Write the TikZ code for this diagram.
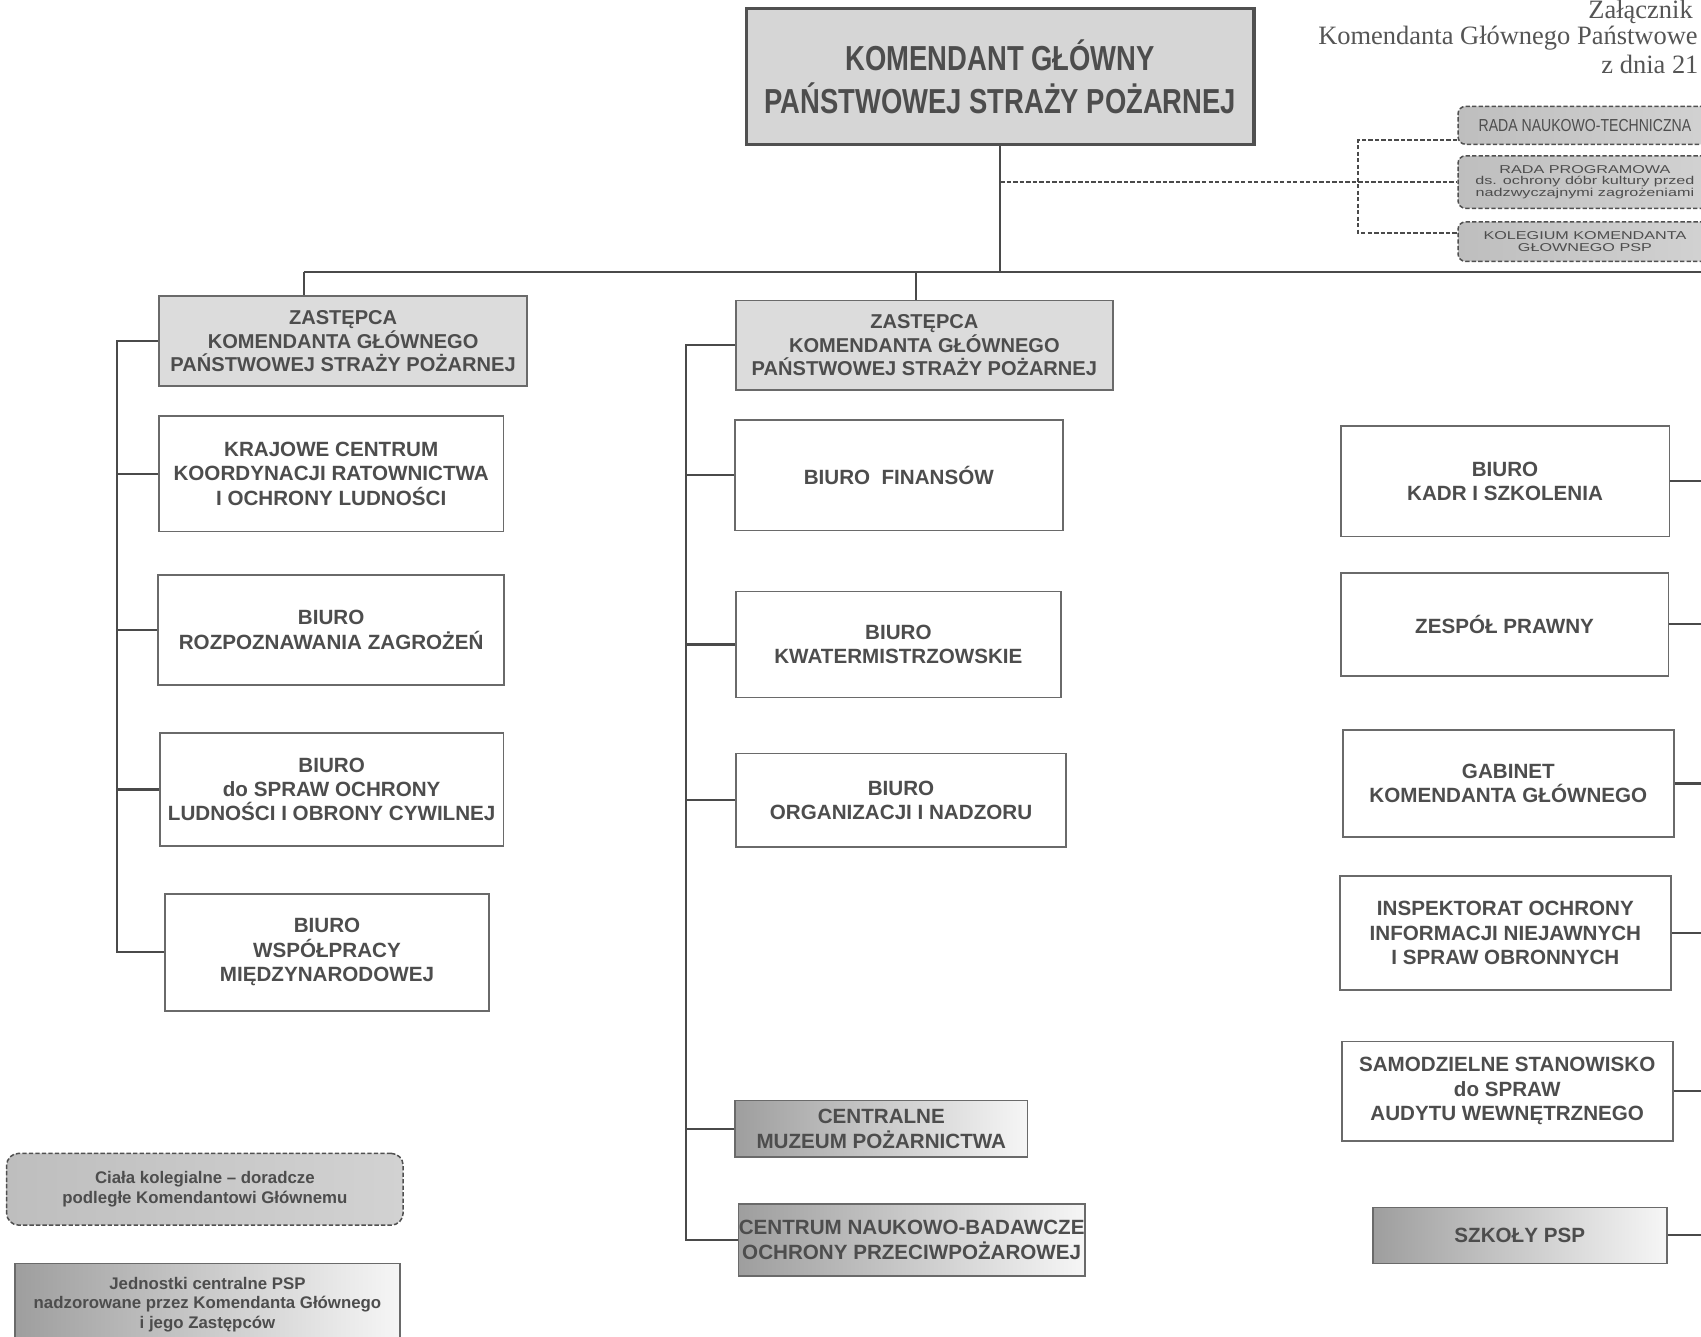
\documentclass[tikz,border=0pt]{standalone}
\usepackage{fontspec}
\setmainfont{Liberation Sans}
\newfontfamily\serifhead{Liberation Serif}
\newfontfamily\narrowmain{Liberation Sans}[FakeStretch=0.79]
\newfontfamily\narrowrada{Liberation Sans}[FakeStretch=0.81]
\newfontfamily\widerada{Liberation Sans}[FakeStretch=1.42]
\usetikzlibrary{calc}
\definecolor{linec}{HTML}{4A4A4A}
\definecolor{boxline}{HTML}{6A6A6A}
\definecolor{txt}{HTML}{4D4D4D}
\definecolor{zfill}{HTML}{DCDCDC}
\definecolor{mainfill}{HTML}{D6D6D6}
\definecolor{mainborder}{HTML}{505050}
\definecolor{gdark}{HTML}{9E9E9E}
\definecolor{glight}{HTML}{F6F6F6}
\definecolor{rdark}{HTML}{BEBEBE}
\definecolor{rlight}{HTML}{D2D2D2}
\definecolor{hdrc}{HTML}{555555}
\tikzset{
  box/.style={draw=boxline, line width=1.5pt, inner sep=0pt, align=center, text=txt,
    font=\bfseries\fontsize{19}{22.5}\selectfont},
  wbox/.style={box, fill=white},
  zbox/.style={box, fill=zfill, font=\bfseries\fontsize{18.5}{21.7}\selectfont},
  gbox/.style={box, left color=gdark, right color=glight},
  mainbox/.style={draw=mainborder, line width=3pt, fill=mainfill, inner sep=0pt, align=center,
    text=txt, font=\narrowmain\bfseries\fontsize{32}{40}\selectfont},
  radabox/.style={draw=mainborder, line width=1.4pt, dash pattern=on 4pt off 2pt,
    rounded corners=7pt, left color=rdark, right color=rlight, inner sep=0pt,
    align=center, text=txt},
  legdash/.style={radabox, rounded corners=11pt, font=\bfseries\fontsize{15.5}{19}\selectfont},
  leggrad/.style={gbox, font=\bfseries\fontsize{15.5}{18}\selectfont},
  hdr/.style={anchor=base west, inner sep=0pt, text=hdrc, font=\serifhead\fontsize{24.4}{27}\selectfont},
  conn/.style={draw=linec, line width=2pt},
  dconn/.style={draw=linec, line width=1.4pt, dash pattern=on 4pt off 2pt},
}
\begin{document}
\begin{tikzpicture}[x=1pt,y=-1pt]
\useasboundingbox[fill=white] (0,0) rectangle (1568,1232);
\clip (0,0) rectangle (1568,1232);

% header
\node[hdr] (hdr1) at (1464,17.5) {Załącznik};
\node[hdr] (hdr2) at (1215,41) {Komendanta Głównego Państwowe};
\node[hdr] (hdr3) at (1476,68.2) {z dnia 21};

% main
\node[mainbox, minimum width=468pt, minimum height=125pt] (main) at (922,70.5)
  {KOMENDANT GŁÓWNY\\PAŃSTWOWEJ STRAŻY POŻARNEJ};

% advisory bodies
\node[radabox, minimum width=234pt, minimum height=35pt,
  font=\narrowrada\fontsize{16}{18}\selectfont] (r1) at (1461,115.5) {RADA NAUKOWO-TECHNICZNA};
\node[radabox, minimum width=234pt, minimum height=48.4pt,
  font=\widerada\fontsize{10.5}{10.9}\selectfont] (r2) at (1461,167.8)
  {RADA PROGRAMOWA\\ds. ochrony dóbr kultury przed\\nadzwyczajnymi zagrożeniami};
\node[radabox, minimum width=234pt, minimum height=36.5pt,
  font=\widerada\fontsize{10.5}{10.9}\selectfont] (r3) at (1461,222.75)
  {KOLEGIUM KOMENDANTA\\GŁOWNEGO PSP};

% left column
\node[zbox, minimum width=339.4pt, minimum height=83pt] (z1) at (316.3,314.5)
  {ZASTĘPCA\\KOMENDANTA GŁÓWNEGO\\PAŃSTWOWEJ STRAŻY POŻARNEJ};
\node[wbox, minimum width=317.4pt, minimum height=106.5pt] (kraj) at (305.3,436.75)
  {KRAJOWE CENTRUM\\KOORDYNACJI RATOWNICTWA\\I OCHRONY LUDNOŚCI};
\node[wbox, minimum width=318.9pt, minimum height=101.5pt] (rozp) at (305.25,580.75)
  {BIURO\\ROZPOZNAWANIA ZAGROŻEŃ};
\node[wbox, minimum width=316.5pt, minimum height=104.6pt] (ochr) at (305.75,727.7)
  {BIURO\\do SPRAW OCHRONY\\LUDNOŚCI I OBRONY CYWILNEJ};
\node[wbox, minimum width=298.8pt, minimum height=107.7pt] (wsp) at (301.4,877.85)
  {BIURO\\WSPÓŁPRACY\\MIĘDZYNARODOWEJ};

% middle column
\node[zbox, minimum width=347.2pt, minimum height=82.5pt] (z2) at (852.1,318.25)
  {ZASTĘPCA\\KOMENDANTA GŁÓWNEGO\\PAŃSTWOWEJ STRAŻY POŻARNEJ};
\node[wbox, minimum width=302.1pt, minimum height=102pt] (fin) at (828.55,438)
  {BIURO~ FINANSÓW};
\node[wbox, minimum width=299.3pt, minimum height=97.4pt] (kwat) at (828.15,594.1)
  {BIURO\\KWATERMISTRZOWSKIE};
\node[wbox, minimum width=304.2pt, minimum height=86.6pt] (org) at (830.6,737.7)
  {BIURO\\ORGANIZACJI I NADZORU};
\node[gbox, minimum width=269.8pt, minimum height=52.2pt] (muz) at (812.4,1040.7)
  {CENTRALNE\\MUZEUM POŻARNICTWA};
\node[gbox, minimum width=319.6pt, minimum height=66.4pt] (cnbop) at (840.4,1143.1)
  {CENTRUM NAUKOWO-BADAWCZE\\OCHRONY PRZECIWPOŻAROWEJ};

% right column
\node[wbox, minimum width=302.9pt, minimum height=102pt] (kadr) at (1387.35,443.7)
  {BIURO\\KADR I SZKOLENIA};
\node[wbox, minimum width=302pt, minimum height=95.3pt] (praw) at (1386.9,575.55)
  {ZESPÓŁ PRAWNY};
\node[wbox, minimum width=305.4pt, minimum height=98.3pt] (gab) at (1390.4,722.15)
  {GABINET\\KOMENDANTA GŁÓWNEGO};
\node[wbox, minimum width=304.8pt, minimum height=105.1pt] (insp) at (1387.7,860.05)
  {INSPEKTORAT OCHRONY\\INFORMACJI NIEJAWNYCH\\I SPRAW OBRONNYCH};
\node[wbox, minimum width=305.1pt, minimum height=91.6pt] (samo) at (1389.35,1006)
  {SAMODZIELNE STANOWISKO\\do SPRAW\\AUDYTU WEWNĘTRZNEGO};
\node[gbox, minimum width=271pt, minimum height=51.7pt] (szk) at (1400.9,1138.75)
  {SZKOŁY PSP};

% legend
\node[legdash, minimum width=365.5pt, minimum height=66.1pt] (leg1) at (188.85,1096.25)
  {Ciała kolegialne – doradcze\\podległe Komendantowi Głównemu};
\node[leggrad, minimum width=354.9pt, minimum height=75.4pt] (leg2) at (191.25,1202.3)
  {Jednostki centralne PSP\\nadzorowane przez Komendanta Głównego\\i jego Zastępców};

% connectors
\coordinate (busL) at (280,251);
\coordinate (busM) at (844,251);
\coordinate (busR) at (1580,251);
\coordinate (dj1) at (1252,129);
\coordinate (dj2) at (1252,215);
\coordinate (ls) at (107.5,0);
\coordinate (ms) at (632,0);
\coordinate (re) at (1580,0);

\draw[conn] (main.south) -- (main.south |- busL);
\draw[conn] (busL) -- (busR);
\draw[conn] (busL) -- (busL |- z1.north);
\draw[conn] (busM) -- (busM |- z2.north);

\draw[dconn] (main.south |- r2.west) -- (r2.west);
\draw[dconn] (dj1 -| r1.west) -- (dj1) -- (dj2) -- (dj2 -| r3.west);

\draw[conn] (z1.west) -- (z1.west -| ls) -- (wsp.west -| ls) -- (wsp.west);
\foreach \n in {kraj,rozp,ochr} \draw[conn] (\n.west) -- (\n.west -| ls);

\draw[conn] (z2.west) -- (z2.west -| ms) -- (cnbop.west -| ms) -- (cnbop.west);
\foreach \n in {fin,kwat,org,muz} \draw[conn] (\n.west) -- (\n.west -| ms);

\foreach \n in {kadr,praw,gab,insp,samo,szk} \draw[conn] (\n.east) -- (\n.east -| re);
\end{tikzpicture}
\end{document}
